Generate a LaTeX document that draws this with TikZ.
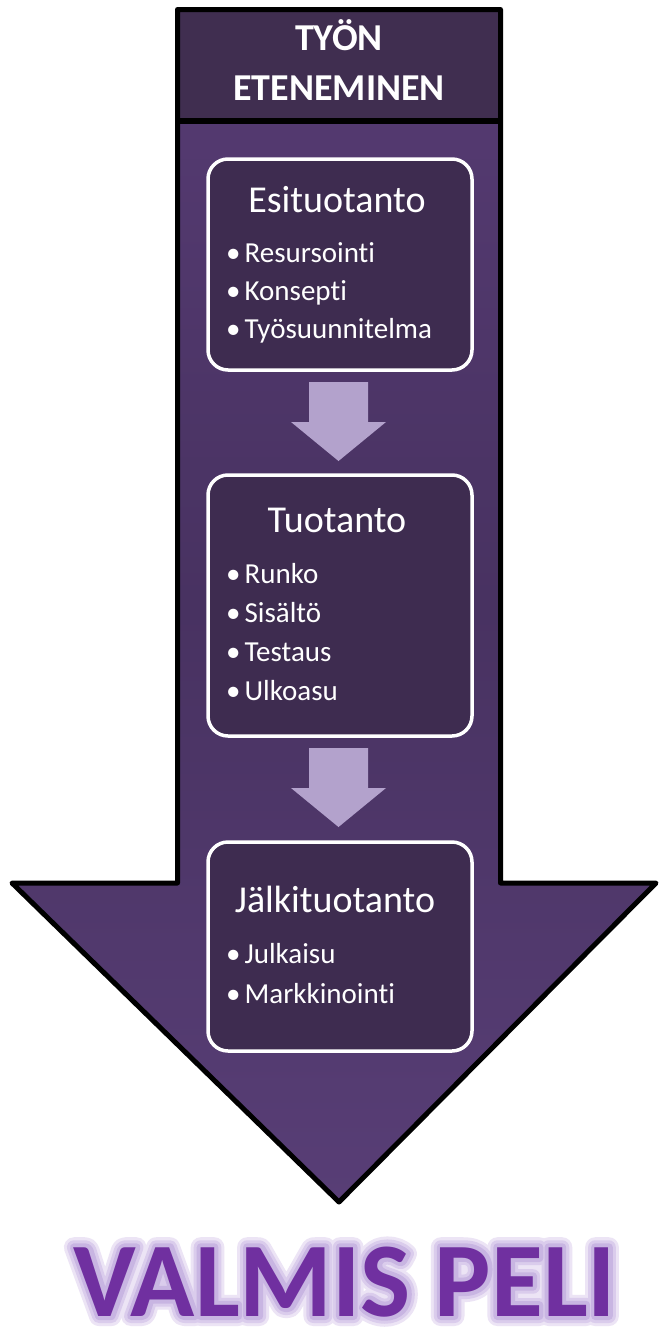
\documentclass[tikz,border=0pt]{standalone}
\usepackage{fontspec}
\setmainfont{Carlito}[RawFeature={-liga;-clig;-dlig}]
\definecolor{shaftA}{RGB}{86,59,115}
\definecolor{shaftB}{RGB}{72,50,97}
\definecolor{shaftC}{RGB}{88,62,118}
\definecolor{headfill}{RGB}{64,46,80}
\definecolor{boxfill}{RGB}{62,44,80}
\definecolor{arrowlight}{RGB}{179,162,204}
\definecolor{finalpurple}{RGB}{112,48,160}
\definecolor{glowA}{RGB}{236,228,245}
\definecolor{glowB}{RGB}{218,204,236}
\definecolor{glowC}{RGB}{200,181,226}
% stroked text: #1 = line width, #2 = rgb stroke, #3 = text
\newcommand{\strokedtext}[3]{\special{pdf:literal direct 2 Tr #1 w 1 j #2 RG}#3\special{pdf:literal direct 0 Tr}}
\begin{document}
\begin{tikzpicture}[x=1pt,y=-1pt,
  box/.style={draw=white, line width=3.5pt, rounded corners=20pt, fill=boxfill, minimum width=264pt, inner sep=0pt},
  ttl/.style={text=white, font=\fontsize{38}{42}\selectfont, anchor=base, inner sep=0pt},
  itm/.style={text=white, font=\fontsize{29}{31}\selectfont, anchor=base west, inner sep=0pt},
  hdr/.style={text=white, font=\bfseries\fontsize{38}{40}\selectfont, anchor=base, inner sep=0pt},
  smallarrow/.style={fill=arrowlight},
  fin/.style={font=\bfseries\fontsize{106}{110}\selectfont, anchor=base, inner sep=0pt},
]
\useasboundingbox (0,0) rectangle (659,1333);
\fill[white] (0,0) rectangle (659,1333);
% big arrow
\shade[top color=shaftA, bottom color=shaftC, middle color=shaftB]
  (177.5,9.5) -- (500.5,9.5) -- (500.5,883) -- (656,883) -- (339,1202) -- (12,883) -- (177.5,883) -- cycle;
\fill[headfill] (177.5,9.5) rectangle (500.5,121);
\draw[line width=5pt, line join=round]
  (177.5,9.5) -- (500.5,9.5) -- (500.5,883) -- (656,883) -- (339,1202) -- (12,883) -- (177.5,883) -- cycle;
\draw[line width=5.5pt] (177.5,121) -- (500.5,121);
% header
\node[hdr] (h1) at (339,50) {TYÖN};
\node[hdr] (h2) at (339,100) {ETENEMINEN};
% boxes
\node[box, minimum height=211pt] (b1) at (340,264.5) {};
\node[box, minimum height=261pt] (b2) at (340,605.5) {};
\node[box, minimum height=209pt] (b3) at (340,946.5) {};
% box 1
\node[ttl] (t1) at (337,212) {Esituotanto};
\node[itm] (i11) at (226,262) {•\hspace{4pt}Resursointi};
\node[itm] (i12) at (226,300) {•\hspace{4pt}Konsepti};
\node[itm] (i13) at (226,338) {•\hspace{4pt}Työsuunnitelma};
% box 2
\node[ttl] (t2) at (337,532) {Tuotanto};
\node[itm] (i21) at (226,583) {•\hspace{4pt}Runko};
\node[itm] (i22) at (226,622) {•\hspace{4pt}Sisältö};
\node[itm] (i23) at (226,661) {•\hspace{4pt}Testaus};
\node[itm] (i24) at (226,700) {•\hspace{4pt}Ulkoasu};
% box 3
\node[ttl] (t3) at (335,912) {Jälkituotanto};
\node[itm] (i31) at (226,963) {•\hspace{4pt}Julkaisu};
\node[itm] (i32) at (226,1003) {•\hspace{4pt}Markkinointi};
% small arrows
\fill[smallarrow] (309,382) -- (368,382) -- (368,422) -- (386,422) -- (338.5,461) -- (291,422) -- (309,422) -- cycle;
\fill[smallarrow] (309,748) -- (368,748) -- (368,788) -- (386,788) -- (338.5,827) -- (291,788) -- (309,788) -- cycle;
% final text with glow
\node[fin, text=glowA] (g1) at (345,1316) {\strokedtext{20}{0.925 0.894 0.961}{VALMIS PELI}};
\node[fin, text=glowB] (g2) at (345,1316) {\strokedtext{14}{0.855 0.8 0.925}{VALMIS PELI}};
\node[fin, text=glowC] (g3) at (345,1316) {\strokedtext{8}{0.784 0.71 0.886}{VALMIS PELI}};
\node[fin, text=finalpurple] (fin) at (345,1316) {VALMIS PELI};
\end{tikzpicture}
\end{document}
